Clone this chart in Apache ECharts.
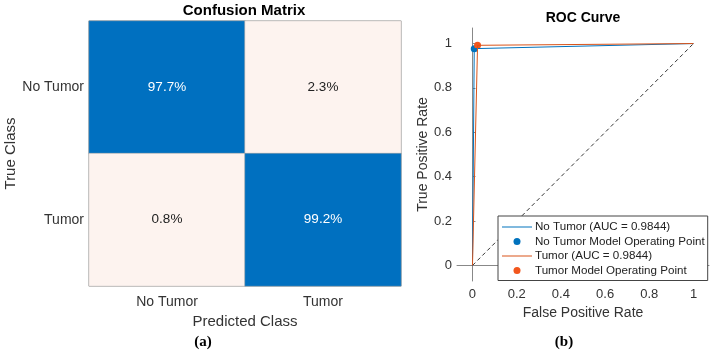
<!DOCTYPE html>
<html>
<head>
<meta charset="utf-8">
<script src="https://cdn.jsdelivr.net/npm/echarts@6/dist/echarts.min.js"></script>
<style>
  html, body { margin: 0; padding: 0; background: #fff; }
  #main { width: 717px; height: 355px; }
</style>
</head>
<body>
<div id="main"></div>
<script>
// confusion matrix (rows = true class, cols = predicted class), percent
var classes = ['No Tumor', 'Tumor']
var cmRows = [
    [97.7, 2.3],
    [0.8, 99.2]
]

// ROC curves
var rocTicks = [0, 0.2, 0.4, 0.6, 0.8, 1]
var noTumorFpr = [0, 0.008, 1]
var noTumorTpr = [0, 0.977, 1]
var tumorFpr = [0, 0.023, 1]
var tumorTpr = [0, 0.992, 1]
var noTumorOp = [0.008, 0.977]
var tumorOp = [0.023, 0.992]
var diagX = [0, 1]

var FONT = '"Liberation Sans", Arial, sans-serif'
var BLUE = '#0072BD'
var ORANGE = '#D95319'
var LINE_ICON = 'path://M0,0 L30,0 L30,1 L0,1 Z'

function zip(xs, ys) {
    return xs.map(function (x, i) { return [x, ys[i]] })
}

var cmData = []
cmRows.forEach(function (row, r) {
    row.forEach(function (v, c) {
        var diag = r === c
        cmData.push({
            value: [c, r, v],
            itemStyle: { color: diag ? '#0070C0' : '#FDF3EF' },
            label: { color: diag ? '#ffffff' : '#222222' }
        })
    })
})

var myChart = echarts.init(document.getElementById('main'))

var option = {
    animation: false,
    textStyle: { fontFamily: FONT },
    graphic: [
        { type: 'text', x: 244, y: 11, style: { text: 'Confusion Matrix', font: 'bold 15px ' + FONT, fill: '#000', align: 'center', verticalAlign: 'middle' } },
        { type: 'text', x: 583, y: 18, style: { text: 'ROC Curve', font: 'bold 14px ' + FONT, fill: '#000', align: 'center', verticalAlign: 'middle' } },
        { type: 'text', x: 203, y: 342, style: { text: '(a)', font: 'bold 15px "Liberation Serif", "Times New Roman", serif', fill: '#000', align: 'center', verticalAlign: 'middle' } },
        { type: 'text', x: 564, y: 342, style: { text: '(b)', font: 'bold 15px "Liberation Serif", "Times New Roman", serif', fill: '#000', align: 'center', verticalAlign: 'middle' } }
    ],
    grid: [
        { left: 89, top: 21, width: 312, height: 265, show: true, borderColor: '#a0a0a0', borderWidth: 1, backgroundColor: 'transparent' },
        { left: 457, top: 28, width: 252, height: 253 }
    ],
    xAxis: [
        {
            type: 'category', gridIndex: 0, data: classes,
            axisLine: { show: false }, axisTick: { show: false },
            axisLabel: { fontSize: 14, color: '#333', margin: 9 },
            name: 'Predicted Class', nameLocation: 'middle', nameGap: 26,
            nameTextStyle: { fontSize: 15, color: '#333' }
        },
        {
            type: 'value', gridIndex: 1, min: -0.07, max: 1.07,
            splitLine: { show: false },
            axisLine: { lineStyle: { color: '#888' } },
            axisTick: { inside: true, length: 3, customValues: rocTicks, lineStyle: { color: '#888' } },
            axisLabel: { customValues: rocTicks, fontSize: 13, color: '#333', margin: 7 },
            name: 'False Positive Rate', nameLocation: 'middle', nameGap: 24,
            nameTextStyle: { fontSize: 14, color: '#333' }
        }
    ],
    yAxis: [
        {
            type: 'category', gridIndex: 0, data: classes, inverse: true,
            axisLine: { show: false }, axisTick: { show: false },
            axisLabel: { fontSize: 14, color: '#333', margin: 5 },
            name: 'True Class', nameLocation: 'middle', nameGap: 70, nameRotate: 90,
            nameTextStyle: { fontSize: 15, color: '#333' }
        },
        {
            type: 'value', gridIndex: 1, min: -0.07, max: 1.07,
            splitLine: { show: false },
            axisLine: { show: true, lineStyle: { color: '#888' } },
            axisTick: { show: true, inside: true, length: 3, customValues: rocTicks, lineStyle: { color: '#888' } },
            axisLabel: { customValues: rocTicks, fontSize: 13, color: '#333', margin: 5 },
            name: 'True Positive Rate', nameLocation: 'middle', nameGap: 27, nameRotate: 90,
            nameTextStyle: { fontSize: 14, color: '#333' }
        }
    ],
    legend: {
        data: [
            { name: 'No Tumor (AUC = 0.9844)', icon: LINE_ICON, itemStyle: { color: BLUE } },
            { name: 'No Tumor Model Operating Point', icon: 'circle' },
            { name: 'Tumor (AUC = 0.9844)', icon: LINE_ICON, itemStyle: { color: ORANGE } },
            { name: 'Tumor Model Operating Point', icon: 'circle' }
        ],
        orient: 'vertical',
        left: 498, top: 216,
        itemWidth: 30, itemHeight: 7, itemGap: 0.5,
        padding: [4, 3, 3, 4],
        borderColor: '#444', borderWidth: 1, borderRadius: 0,
        backgroundColor: '#fff',
        z: 10,
        selectedMode: false,
        textStyle: { fontSize: 11.6, color: '#222', lineHeight: 14, padding: [0, 0, 0, -2] }
    },
    series: [
        {
            type: 'heatmap', xAxisIndex: 0, yAxisIndex: 0,
            data: cmData,
            itemStyle: { borderColor: '#a0a0a0', borderWidth: 0.5 },
            label: {
                show: true, fontSize: 13.5,
                formatter: function (p) { return p.value[2].toFixed(1) + '%' }
            },
            emphasis: { disabled: true }
        },
        {
            name: 'diagonal', type: 'line', xAxisIndex: 1, yAxisIndex: 1,
            data: zip(diagX, diagX), symbol: 'none', silent: true,
            lineStyle: { color: '#000', width: 0.8, type: [4, 3] }
        },
        {
            name: 'No Tumor (AUC = 0.9844)', type: 'line', xAxisIndex: 1, yAxisIndex: 1,
            data: zip(noTumorFpr, noTumorTpr), symbol: 'none',
            lineStyle: { color: BLUE, width: 1 }, itemStyle: { color: BLUE }
        },
        {
            name: 'No Tumor Model Operating Point', type: 'scatter', xAxisIndex: 1, yAxisIndex: 1,
            data: [noTumorOp], symbol: 'circle', symbolSize: 7,
            itemStyle: { color: BLUE, opacity: 1 }
        },
        {
            name: 'Tumor (AUC = 0.9844)', type: 'line', xAxisIndex: 1, yAxisIndex: 1,
            data: zip(tumorFpr, tumorTpr), symbol: 'none',
            lineStyle: { color: ORANGE, width: 1 }, itemStyle: { color: ORANGE }
        },
        {
            name: 'Tumor Model Operating Point', type: 'scatter', xAxisIndex: 1, yAxisIndex: 1,
            data: [tumorOp], symbol: 'circle', symbolSize: 7,
            itemStyle: { color: '#F2561D', opacity: 1 }
        }
    ]
}

myChart.setOption(option)
</script>
</body>
</html>
